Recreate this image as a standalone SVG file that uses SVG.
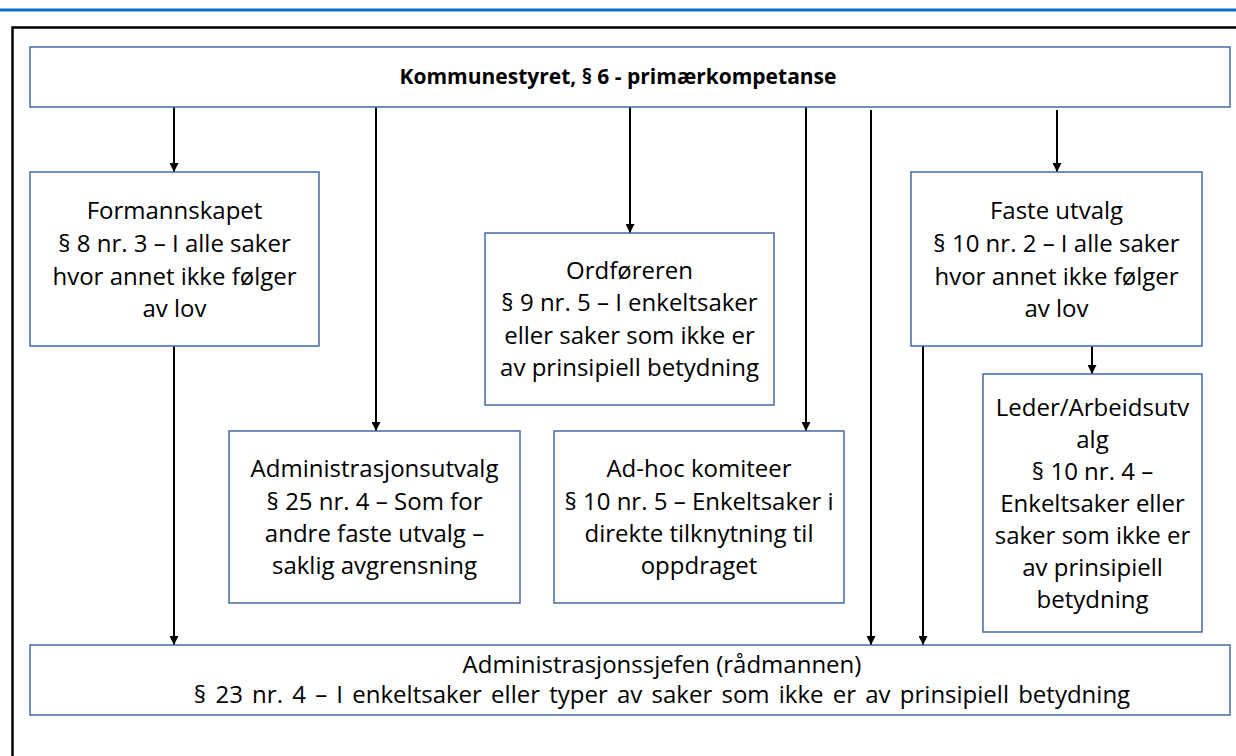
<svg xmlns="http://www.w3.org/2000/svg" width="1236" height="756" viewBox="0 0 1236 756">
<defs>
<style>
.box{fill:#fff;stroke:#4668A6;stroke-width:1.5}
.t{font-family:"Open Sans","Liberation Sans",sans-serif;font-size:24px;fill:#000;text-anchor:middle}
.b{font-weight:bold;font-size:21px}
.c{stroke:#000;stroke-width:2;fill:none;marker-end:url(#ah)}
</style>
<marker id="ah" viewBox="0 0 10 10" refX="10" refY="5" markerWidth="4.5" markerHeight="4.5" orient="auto" markerUnits="strokeWidth">
<path d="M0,0 L10,5 L0,10 z" fill="#000"/>
</marker>
</defs>
<rect width="1236" height="756" fill="#fff"/>
<line x1="0" y1="10" x2="1236" y2="10" stroke="#0070C0" stroke-width="3"/>
<rect x="12.5" y="27.5" width="1240" height="740" fill="none" stroke="#000" stroke-width="2.5"/>
<g id="connectors">
<line class="c" x1="174" y1="107" x2="174" y2="172"/>
<line class="c" x1="376" y1="107" x2="376" y2="431"/>
<line class="c" x1="630" y1="107" x2="630" y2="233"/>
<line class="c" x1="806" y1="107" x2="806" y2="431"/>
<line class="c" x1="871" y1="110" x2="871" y2="645"/>
<line class="c" x1="1057" y1="110" x2="1057" y2="172"/>
<line class="c" x1="174" y1="346" x2="174" y2="645"/>
<line class="c" x1="923" y1="346" x2="923" y2="645"/>
<line class="c" x1="1092" y1="346" x2="1092" y2="374"/>
</g>
<g id="kommunestyret">
<rect class="box" x="30" y="47" width="1200" height="60"/>
<text class="t b" x="618" y="84">Kommunestyret, § 6 - primærkompetanse</text>
</g>
<g id="formannskapet">
<rect class="box" x="30" y="172" width="289" height="174"/>
<text class="t" x="174.5"><tspan x="174.5" y="219">Formannskapet</tspan><tspan x="174.5" y="252">§ 8 nr. 3 – I alle saker</tspan><tspan x="174.5" y="285">hvor annet ikke følger</tspan><tspan x="174.5" y="317">av lov</tspan></text>
</g>
<g id="ordforeren">
<rect class="box" x="485" y="233" width="289" height="172"/>
<text class="t" x="629.5"><tspan x="629.5" y="279">Ordføreren</tspan><tspan x="629.5" y="311">§ 9 nr. 5 – I enkeltsaker</tspan><tspan x="629.5" y="344">eller saker som ikke er</tspan><tspan x="629.5" y="376">av prinsipiell betydning</tspan></text>
</g>
<g id="faste-utvalg">
<rect class="box" x="911" y="172" width="291" height="174"/>
<text class="t" x="1056.5"><tspan x="1056.5" y="219">Faste utvalg</tspan><tspan x="1056.5" y="252">§ 10 nr. 2 – I alle saker</tspan><tspan x="1056.5" y="285">hvor annet ikke følger</tspan><tspan x="1056.5" y="317">av lov</tspan></text>
</g>
<g id="administrasjonsutvalg">
<rect class="box" x="229" y="431" width="291" height="172"/>
<text class="t" x="374.5"><tspan x="374.5" y="477">Administrasjonsutvalg</tspan><tspan x="374.5" y="510">§ 25 nr. 4 – Som for</tspan><tspan x="374.5" y="542">andre faste utvalg –</tspan><tspan x="374.5" y="574">saklig avgrensning</tspan></text>
</g>
<g id="ad-hoc">
<rect class="box" x="554" y="431" width="290" height="172"/>
<text class="t" x="699"><tspan x="699" y="477">Ad-hoc komiteer</tspan><tspan x="699" y="510">§ 10 nr. 5 – Enkeltsaker i</tspan><tspan x="699" y="542">direkte tilknytning til</tspan><tspan x="699" y="574">oppdraget</tspan></text>
</g>
<g id="leder">
<rect class="box" x="983" y="374" width="219" height="258"/>
<text class="t" x="1092.5"><tspan x="1092.5" y="416">Leder/Arbeidsutv</tspan><tspan x="1092.5" y="448">alg</tspan><tspan x="1092.5" y="480">§ 10 nr. 4 –</tspan><tspan x="1092.5" y="512">Enkeltsaker eller</tspan><tspan x="1092.5" y="544">saker som ikke er</tspan><tspan x="1092.5" y="576">av prinsipiell</tspan><tspan x="1092.5" y="608">betydning</tspan></text>
</g>
<g id="administrasjonssjefen">
<rect class="box" x="30" y="645" width="1200" height="70"/>
<text class="t" x="662"><tspan x="662" y="673">Administrasjonssjefen (rådmannen)</tspan><tspan x="662" y="703" word-spacing="3">§ 23 nr. 4 – I enkeltsaker eller typer av saker som ikke er av prinsipiell betydning</tspan></text>
</g>
</svg>
